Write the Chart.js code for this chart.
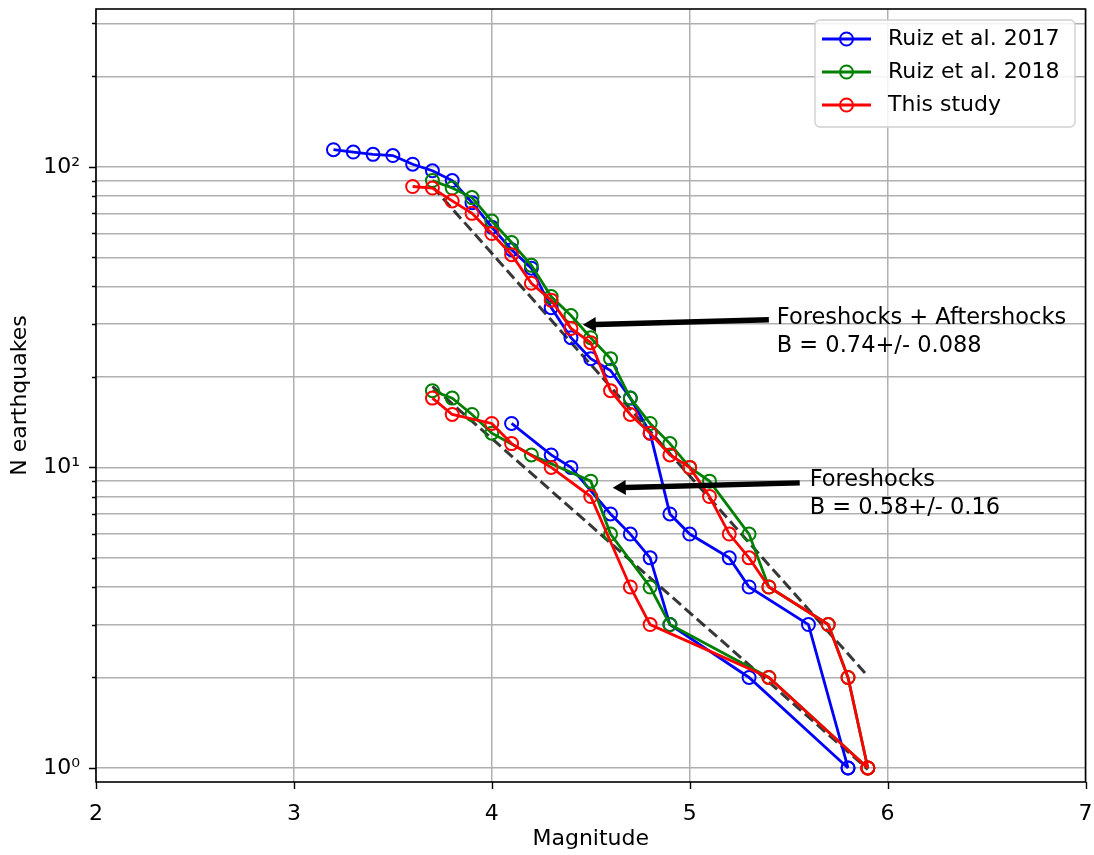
<!DOCTYPE html>
<html>
<head>
  <title>Magnitude-frequency</title>
  <script src="https://cdn.jsdelivr.net/npm/chart.js"></script>
  <style>
    body { margin: 0; background: #fff; }
    #chartContainer { width: 1094px; height: 855px; }
  </style>
</head>
<body>
  <div id="chartContainer">
    <canvas id="myChart" width="1094" height="855"></canvas>
  </div>

  <script>
    // Ruiz et al. 2017 (all events / foreshocks)
    const ruiz17AllM = [3.2, 3.3, 3.4, 3.5, 3.6, 3.7, 3.8, 3.9, 4.0, 4.1, 4.2, 4.3, 4.4, 4.5, 4.6, 4.7, 4.8, 4.9, 5.0, 5.2, 5.3, 5.6, 5.8];
    const ruiz17AllN = [114, 112, 110, 109, 102, 97, 90, 76, 63, 53, 46, 34, 27, 23, 21, 17, 13, 7, 6, 5, 4, 3, 1];
    const ruiz17ForeM = [4.1, 4.3, 4.4, 4.6, 4.7, 4.8, 4.9, 5.3, 5.8];
    const ruiz17ForeN = [14, 11, 10, 7, 6, 5, 3, 2, 1];

    // Ruiz et al. 2018
    const ruiz18AllM = [3.7, 3.8, 3.9, 4.0, 4.1, 4.2, 4.3, 4.4, 4.5, 4.6, 4.7, 4.8, 4.9, 5.0, 5.1, 5.3, 5.4, 5.7, 5.8, 5.9];
    const ruiz18AllN = [90, 85, 79, 66, 56, 47, 37, 32, 27, 23, 17, 14, 12, 10, 9, 6, 4, 3, 2, 1];
    const ruiz18ForeM = [3.7, 3.8, 3.9, 4.0, 4.2, 4.5, 4.6, 4.8, 4.9, 5.4, 5.9];
    const ruiz18ForeN = [18, 17, 15, 13, 11, 9, 6, 4, 3, 2, 1];

    // This study
    const studyAllM = [3.6, 3.7, 3.8, 3.9, 4.0, 4.1, 4.2, 4.3, 4.4, 4.5, 4.6, 4.7, 4.8, 4.9, 5.0, 5.1, 5.2, 5.3, 5.4, 5.7, 5.8, 5.9];
    const studyAllN = [86, 85, 77, 70, 60, 51, 41, 36, 29, 26, 18, 15, 13, 11, 10, 8, 6, 5, 4, 3, 2, 1];
    const studyForeM = [3.7, 3.8, 4.0, 4.1, 4.3, 4.5, 4.7, 4.8, 5.4, 5.9];
    const studyForeN = [17, 15, 14, 12, 10, 8, 4, 3, 2, 1];

    // b-value fits (dashed)
    const fitAllM = [3.7, 5.9];
    const fitAllN = [86, 2.02];
    const fitForeM = [3.7, 5.9];
    const fitForeN = [18.6, 0.99];

    // axes
    const xTicks = [2, 3, 4, 5, 6, 7];
    const yTicks = [1, 2, 3, 4, 5, 6, 7, 8, 9, 10, 20, 30, 40, 50, 60, 70, 80, 90, 100, 200, 300];
    const yLabels = { 1: '10\u2070', 10: '10\u00b9', 100: '10\u00b2' };

    // legend
    const legendNames = ['Ruiz et al. 2017', 'Ruiz et al. 2018', 'This study'];
    const legendColors = ['#0000ff', '#008000', '#ff0000'];

    // annotations: text lines, text anchor, arrow tail and tip (data coords)
    const notes = [
      { lines: ['Foreshocks + Aftershocks', 'B = 0.74+/- 0.088'], textM: 5.44, textN: 31.4, tailM: 5.40, tailN: 31.0, tipM: 4.46, tipN: 29.8 },
      { lines: ['Foreshocks', 'B = 0.58+/- 0.16'], textM: 5.606, textN: 9.09, tailM: 5.556, tailN: 8.88, tipM: 4.611, tipN: 8.55 }
    ];

    const FONT = 'DejaVu Sans, sans-serif';

    function pts(ms, ns) {
      return ms.map((m, i) => ({ x: m, y: ns[i] }));
    }

    function series(data, color, order) {
      return {
        data: data,
        borderColor: color,
        borderWidth: 2.8,
        pointRadius: 6.5,
        pointBorderWidth: 2,
        pointBackgroundColor: 'rgba(0,0,0,0)',
        pointBorderColor: color,
        fill: false,
        tension: 0,
        order: order
      };
    }

    function fitLine(data) {
      return {
        data: data,
        borderColor: 'rgba(0,0,0,0.78)',
        borderWidth: 3,
        borderDash: [11, 5],
        pointRadius: 0,
        fill: false,
        order: 5
      };
    }

    function arrow(ctx, x0, y0, x1, y1) {
      const dx = x1 - x0, dy = y1 - y0;
      const len = Math.hypot(dx, dy);
      const ux = dx / len, uy = dy / len;
      const nx = -uy, ny = ux;
      const hl = 13, hw = 7.5, sw = 2.7;
      const bx = x1 - ux * hl, by = y1 - uy * hl;
      ctx.beginPath();
      ctx.moveTo(x0 + nx * sw, y0 + ny * sw);
      ctx.lineTo(bx + nx * sw, by + ny * sw);
      ctx.lineTo(bx + nx * hw, by + ny * hw);
      ctx.lineTo(x1, y1);
      ctx.lineTo(bx - nx * hw, by - ny * hw);
      ctx.lineTo(bx - nx * sw, by - ny * sw);
      ctx.lineTo(x0 - nx * sw, y0 - ny * sw);
      ctx.closePath();
      ctx.fill();
    }

    const extras = {
      id: 'extras',
      afterDraw(chart) {
        const ctx = chart.ctx;
        const a = chart.chartArea;
        const xs = chart.scales.x, ys = chart.scales.y;
        ctx.save();

        // tick marks
        ctx.strokeStyle = '#000';
        ctx.lineWidth = 1.4;
        ctx.beginPath();
        xTicks.forEach(v => {
          const px = Math.round(xs.getPixelForValue(v)) + 0.5;
          ctx.moveTo(px, a.bottom); ctx.lineTo(px, a.bottom + 7);
        });
        yTicks.forEach(v => {
          const py = Math.round(ys.getPixelForValue(v)) + 0.5;
          const len = yLabels[v] ? 7 : 4;
          ctx.moveTo(a.left - len, py); ctx.lineTo(a.left, py);
        });
        ctx.stroke();

        // frame
        ctx.lineWidth = 1.6;
        ctx.strokeRect(a.left, a.top, a.right - a.left, a.bottom - a.top);

        // axis titles
        ctx.fillStyle = '#000';
        ctx.font = '22px ' + FONT;
        ctx.textAlign = 'center';
        ctx.textBaseline = 'middle';
        ctx.fillText('Magnitude', (a.left + a.right) / 2, 839);
        ctx.save();
        ctx.translate(20, (a.top + a.bottom) / 2);
        ctx.rotate(-Math.PI / 2);
        ctx.fillText('N earthquakes', 0, 0);
        ctx.restore();

        // annotations
        notes.forEach(n => {
          const tx = xs.getPixelForValue(n.textM), ty = ys.getPixelForValue(n.textN);
          ctx.fillStyle = '#000';
          arrow(ctx, xs.getPixelForValue(n.tailM), ys.getPixelForValue(n.tailN),
            xs.getPixelForValue(n.tipM), ys.getPixelForValue(n.tipN));
          ctx.textAlign = 'left';
          ctx.textBaseline = 'middle';
          ctx.font = '22.5px ' + FONT;
          n.lines.forEach((t, i) => ctx.fillText(t, tx, ty + i * 28));
        });

        // legend
        const lx = 815, ly = 20, lw = 260, lh = 107;
        ctx.beginPath();
        ctx.roundRect(lx, ly, lw, lh, 5);
        ctx.fillStyle = 'rgba(255,255,255,0.85)';
        ctx.fill();
        ctx.strokeStyle = '#d0d0d0';
        ctx.lineWidth = 1.4;
        ctx.stroke();
        legendNames.forEach((name, i) => {
          const y = 39 + i * 33;
          ctx.strokeStyle = legendColors[i];
          ctx.lineWidth = 2.8;
          ctx.beginPath();
          ctx.moveTo(822, y); ctx.lineTo(871, y);
          ctx.stroke();
          ctx.lineWidth = 2;
          ctx.beginPath();
          ctx.arc(846.5, y, 6.5, 0, Math.PI * 2);
          ctx.stroke();
          ctx.fillStyle = '#000';
          ctx.textAlign = 'left';
          ctx.textBaseline = 'middle';
          ctx.font = '22px ' + FONT;
          ctx.fillText(name, 888, y);
        });

        ctx.restore();
      }
    };

    Chart.defaults.font.family = FONT;
    Chart.defaults.color = '#000';

    const ctx = document.getElementById('myChart').getContext('2d');
    new Chart(ctx, {
      type: 'line',
      data: {
        datasets: [
          fitLine(pts(fitAllM, fitAllN)),
          fitLine(pts(fitForeM, fitForeN)),
          series(pts(ruiz17AllM, ruiz17AllN), legendColors[0], 3),
          series(pts(ruiz17ForeM, ruiz17ForeN), legendColors[0], 3),
          series(pts(ruiz18AllM, ruiz18AllN), legendColors[1], 2),
          series(pts(ruiz18ForeM, ruiz18ForeN), legendColors[1], 2),
          series(pts(studyAllM, studyAllN), legendColors[2], 1),
          series(pts(studyForeM, studyForeN), legendColors[2], 1)
        ]
      },
      options: {
        responsive: false,
        animation: false,
        layout: { padding: { top: 9, right: 8, left: 0, bottom: 0 } },
        plugins: {
          legend: { display: false },
          tooltip: { enabled: false }
        },
        scales: {
          x: {
            type: 'linear',
            min: 2,
            max: 7,
            afterBuildTicks: s => { s.ticks = xTicks.map(v => ({ value: v })); },
            afterFit: s => { s.height = 73; s.paddingLeft = 0; s.paddingRight = 0; },
            ticks: { padding: 19, font: { size: 22 }, callback: v => String(v) },
            grid: { color: '#b0b0b0', lineWidth: 1.5, drawTicks: false },
            border: { display: false }
          },
          y: {
            type: 'logarithmic',
            min: 0.898,
            max: 335,
            afterBuildTicks: s => { s.ticks = yTicks.map(v => ({ value: v })); },
            afterFit: s => { s.width = 96; s.paddingTop = 0; s.paddingBottom = 0; },
            ticks: { padding: 16, autoSkip: false, font: { size: 22 }, callback: v => yLabels[v] || '' },
            grid: { color: '#b0b0b0', lineWidth: 1.5, drawTicks: false },
            border: { display: false }
          }
        }
      },
      plugins: [extras]
    });
  </script>
</body>
</html>
